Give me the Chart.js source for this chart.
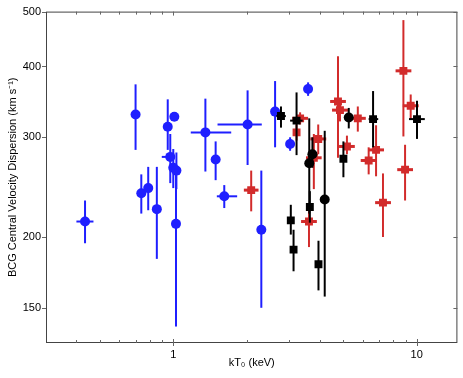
<!DOCTYPE html>
<html lang="en">

<head>
    <meta charset="UTF-8">
    <title>BCG velocity dispersion vs kT0</title>
    <script src="https://cdn.jsdelivr.net/npm/chart.js"></script>
    <style>
        html, body { margin: 0; padding: 0; background: #fff; }
        #wrap { width: 463px; height: 378px; }
    </style>
</head>

<body>
    <div id="wrap"><canvas id="dispChart"></canvas></div>

    <script>
        // tick values
        const xTicks = [0.4, 0.5, 0.6, 0.7, 0.8, 0.9, 1, 2, 3, 4, 5, 6, 7, 8, 9, 10];
        const xLabels = [1, 10];
        const yTicks = [150, 200, 300, 400, 500];

        // blue circles
        const blueX   = [0.434, 0.70, 0.739, 0.789, 0.856, 0.949, 0.972, 1.01, 1.00, 1.03, 1.026, 1.355, 1.493, 1.62, 2.02, 2.30, 2.62, 3.02, 3.58];
        const blueY   = [213, 329, 239, 244, 224, 313, 277, 326, 265, 262, 211, 306, 274, 236, 316, 206, 333, 292, 365];
        const blueXlo = [0.40, 0.70, 0.739, 0.789, 0.856, 0.949, 0.897, 1.01, 1.00, 1.03, 1.026, 1.18, 1.493, 1.51, 1.52, 2.30, 2.62, 3.02, 3.58];
        const blueXhi = [0.47, 0.70, 0.739, 0.789, 0.89, 0.949, 1.01, 1.01, 1.00, 1.03, 1.026, 1.73, 1.493, 1.83, 2.31, 2.30, 2.62, 3.02, 3.58];
        const blueYlo = [195, 285, 220, 223, 183, 285, 249, 326, 244, 243, 139, 261, 252, 225, 268, 150, 288, 284, 355];
        const blueYhi = [232, 372, 258, 266, 266, 350, 304, 326, 286, 282, 265, 351, 295, 247, 363, 262, 377, 300, 375];

        // red squares
        const redX   = [2.09, 3.32, 3.21, 3.94, 3.78, 3.61, 4.75, 4.84, 5.17, 5.73, 6.35, 6.81, 7.27, 8.82, 8.96, 9.45];
        const redY   = [242, 324, 306, 298, 276, 213, 347, 335, 289, 324, 273, 285, 230, 393, 263, 341];
        const redXlo = [1.95, 3.08, 3.21, 3.66, 3.51, 3.35, 4.41, 4.49, 4.80, 5.32, 5.89, 6.32, 6.75, 8.19, 8.32, 8.77];
        const redXhi = [2.24, 3.58, 3.21, 4.25, 4.07, 3.89, 5.12, 5.22, 5.57, 6.18, 6.85, 7.34, 7.84, 9.51, 9.66, 10.19];
        const redYlo = [222, 316, 296, 280, 243, 192, 276, 320, 280, 307, 258, 256, 200, 301, 232, 322];
        const redYhi = [262, 332, 316, 316, 304, 229, 417, 350, 302, 340, 288, 315, 259, 483, 291, 357];

        // black squares
        const sqX   = [2.77, 3.21, 3.04, 3.12, 3.64, 3.95, 5.00, 6.62, 10.03];
        const sqY   = [327, 321, 214, 190, 226, 179, 275, 323, 323];
        const sqXlo = [2.65, 3.02, 3.04, 3.12, 3.64, 3.95, 5.00, 6.35, 9.30];
        const sqXhi = [2.90, 3.40, 3.04, 3.12, 3.64, 3.95, 5.00, 6.95, 10.80];
        const sqYlo = [312, 279, 202, 174, 212, 161, 255, 288, 298];
        const sqYhi = [340, 360, 228, 206, 241, 197, 295, 362, 348];

        // black circles
        const dotX   = [3.62, 3.73, 4.19, 5.26];
        const dotY   = [270, 280, 233, 325];
        const dotYlo = [220, 265, 157, 311];
        const dotYhi = [324, 300, 308, 338];

        function points(xs, ys, xlo, xhi, ylo, yhi) {
            return xs.map((x, i) => ({
                x: x, y: ys[i],
                xMin: xlo ? xlo[i] : x, xMax: xhi ? xhi[i] : x,
                yMin: ylo[i], yMax: yhi[i]
            }));
        }

        const BLUE = '#1f1fff';
        const RED = '#d22b2b';
        const BLACK = '#000000';

        // error bars, drawn under each dataset's markers
        const errorBars = {
            id: 'errorBars',
            beforeDatasetDraw(chart, args) {
                const ds = chart.data.datasets[args.index];
                const xs = chart.scales.x, ys = chart.scales.y;
                const ctx = chart.ctx;
                ctx.save();
                ctx.strokeStyle = ds.borderColor;
                ctx.lineCap = 'butt';
                ds.data.forEach(p => {
                    const px = xs.getPixelForValue(p.x);
                    const py = ys.getPixelForValue(p.y);
                    ctx.lineWidth = ds.errWidth;
                    ctx.beginPath();
                    ctx.moveTo(px, ys.getPixelForValue(p.yMin));
                    ctx.lineTo(px, ys.getPixelForValue(p.yMax));
                    ctx.stroke();
                    if (p.xMax > p.xMin) {
                        ctx.lineWidth = ds.xErrWidth;
                        ctx.beginPath();
                        ctx.moveTo(xs.getPixelForValue(p.xMin), py);
                        ctx.lineTo(xs.getPixelForValue(p.xMax), py);
                        ctx.stroke();
                    }
                });
                ctx.restore();
            }
        };

        // frame and inward/crossing tick marks on all four sides
        const frame = {
            id: 'frame',
            afterDraw(chart) {
                const { ctx, chartArea: a } = chart;
                const xs = chart.scales.x, ys = chart.scales.y;
                ctx.save();
                ctx.lineWidth = 1;
                ctx.strokeStyle = '#444';
                ctx.strokeRect(a.left + 0.5, a.top + 0.5, a.right - a.left - 1, a.bottom - a.top - 1);
                ctx.strokeStyle = '#666';
                ctx.beginPath();
                xTicks.forEach(v => {
                    const px = Math.round(xs.getPixelForValue(v)) + 0.5;
                    const major = xLabels.includes(v);
                    const len = major ? 4 : 3;
                    ctx.moveTo(px, a.bottom);
                    ctx.lineTo(px, a.bottom - len);
                    ctx.moveTo(px, a.top);
                    ctx.lineTo(px, a.top + len);
                    if (major) {
                        ctx.moveTo(px, a.bottom);
                        ctx.lineTo(px, a.bottom + 3);
                    }
                });
                yTicks.forEach(v => {
                    const py = Math.round(ys.getPixelForValue(v)) + 0.5;
                    ctx.moveTo(a.left - 4, py);
                    ctx.lineTo(a.left, py);
                    ctx.moveTo(a.right, py);
                    ctx.lineTo(a.right - 4, py);
                });
                ctx.stroke();
                ctx.restore();
            }
        };

        const font = { family: "'Liberation Sans', Arial, sans-serif", size: 11 };

        new Chart(document.getElementById('dispChart'), {
            type: 'scatter',
            data: {
                datasets: [
                    {
                        label: 'black circles', data: points(dotX, dotY, null, null, dotYlo, dotYhi),
                        pointStyle: 'circle', pointRadius: 5, backgroundColor: BLACK, borderColor: BLACK,
                        borderWidth: 0, errWidth: 2, xErrWidth: 2, order: 1
                    },
                    {
                        label: 'black squares', data: points(sqX, sqY, sqXlo, sqXhi, sqYlo, sqYhi),
                        pointStyle: 'rect', pointRadius: 5.6, backgroundColor: BLACK, borderColor: BLACK,
                        borderWidth: 0, errWidth: 2, xErrWidth: 2, order: 2
                    },
                    {
                        label: 'red squares', data: points(redX, redY, redXlo, redXhi, redYlo, redYhi),
                        pointStyle: 'rect', pointRadius: 5.6, backgroundColor: RED, borderColor: RED,
                        borderWidth: 0, errWidth: 2, xErrWidth: 3, order: 3
                    },
                    {
                        label: 'blue circles', data: points(blueX, blueY, blueXlo, blueXhi, blueYlo, blueYhi),
                        pointStyle: 'circle', pointRadius: 5, backgroundColor: BLUE, borderColor: BLUE,
                        borderWidth: 0, errWidth: 2, xErrWidth: 2, order: 4
                    }
                ]
            },
            options: {
                responsive: true,
                maintainAspectRatio: false,
                animation: false,
                layout: { padding: { left: 0, right: 4, top: 9, bottom: 0 } },
                plugins: {
                    legend: { display: false },
                    tooltip: { enabled: false }
                },
                scales: {
                    x: {
                        type: 'logarithmic',
                        min: 0.3,
                        max: 14.7,
                        afterBuildTicks: s => { s.ticks = xTicks.map(v => ({ value: v })); },
                        afterFit: s => { s.height = 35; },
                        ticks: {
                            autoSkip: false, maxRotation: 0, padding: 5, color: '#000', font: font,
                            callback: v => xLabels.includes(v) ? String(v) : ''
                        },
                        grid: { display: false, drawTicks: false },
                        border: { display: false },
                        title: {
                            display: true, text: 'kT\u2080 (keV)', color: '#000', font: font,
                            padding: { top: 0, bottom: 8 }
                        }
                    },
                    y: {
                        type: 'logarithmic',
                        min: 130,
                        max: 500,
                        afterBuildTicks: s => { s.ticks = yTicks.map(v => ({ value: v })); },
                        afterFit: s => { s.width = 46; },
                        ticks: {
                            autoSkip: false, padding: 5, color: '#000', font: font,
                            callback: v => String(v)
                        },
                        grid: { display: false, drawTicks: false },
                        border: { display: false },
                        title: {
                            display: true, text: 'BCG Central Velocity Dispersion (km s\u207B\u00B9)',
                            color: '#000', font: font, padding: { top: 6, bottom: 0 }
                        }
                    }
                }
            },
            plugins: [errorBars, frame]
        });
    </script>
</body>

</html>
